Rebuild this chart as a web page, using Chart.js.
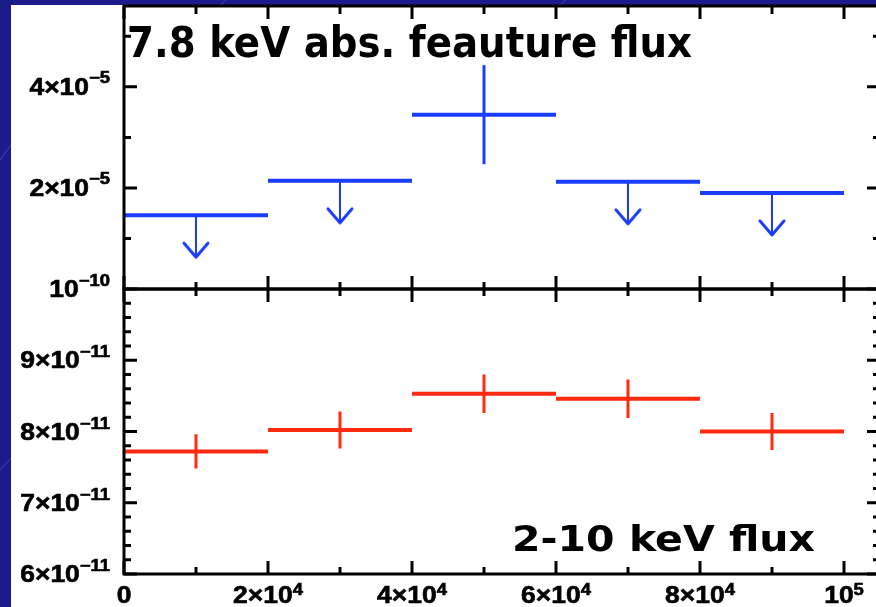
<!DOCTYPE html>
<html>
<head>
<meta charset="utf-8">
<script src="https://cdn.jsdelivr.net/npm/chart.js@4/dist/chart.umd.min.js"></script>
<style>
  html, body { margin: 0; padding: 0; overflow: hidden; background: #1b1b8c; }
  #wrap { position: relative; width: 890px; height: 607px; }
</style>
</head>
<body>
<div id="wrap"><canvas id="fluxChart"></canvas></div>
<script>
// Time bins (s)
const binStart = [0, 2e4, 4e4, 6e4, 8e4]
const binEnd = [2e4, 4e4, 6e4, 8e4, 1e5]

// 7.8 keV absorption feature flux, null error = upper limit
const featureFlux = [1.46e-5, 2.14e-5, 3.45e-5, 2.12e-5, 1.90e-5]
const featureErr = [null, null, 0.98e-5, null, null]

// 2-10 keV continuum flux
const contFlux = [7.72e-11, 8.02e-11, 8.53e-11, 8.46e-11, 8.00e-11]
const contErr = [0.24e-11, 0.26e-11, 0.27e-11, 0.27e-11, 0.26e-11]

// Ticks
const xMajorTicks = [0, 2e4, 4e4, 6e4, 8e4, 1e5]
const xMinorTicks = [1e4, 3e4, 5e4, 7e4, 9e4]
const xTickLabels = [['0', ''], ['2×10', '4'], ['4×10', '4'], ['6×10', '4'], ['8×10', '4'], ['10', '5']]

const topMajorTicks = [2e-5, 4e-5]
const topMinorTicks = [1e-5, 3e-5, 5e-5]
const topTickLabels = [['2×10', '−5'], ['4×10', '−5']]

const botMajorTicks = [6e-11, 7e-11, 8e-11, 9e-11, 1e-10]
const botMinorTicks = [6.2e-11, 6.4e-11, 6.6e-11, 6.8e-11, 7.2e-11, 7.4e-11, 7.6e-11, 7.8e-11,
    8.2e-11, 8.4e-11, 8.6e-11, 8.8e-11, 9.2e-11, 9.4e-11, 9.6e-11, 9.8e-11]
const botTickLabels = [['6×10', '−11'], ['7×10', '−11'], ['8×10', '−11'], ['9×10', '−11'], ['10', '−10']]

const topTitle = '7.8 keV abs. feauture flux'
const bottomTitle = '2-10 keV flux'

// length of upper-limit arrows, in flux units of the top panel
const ARROW_LEN = 0.83e-5

const BLUE = '#1a3cff'
const RED = '#ff2a10'
const LABEL_FONT = '"Liberation Sans", Arial, sans-serif'
const TITLE_FONT = '"DejaVu Sans", sans-serif'

const binMid = i => (binStart[i] + binEnd[i]) / 2

function binSegments(values) {
    const pts = []
    values.forEach((v, i) => {
        pts.push({ x: binStart[i], y: v }, { x: binEnd[i], y: v }, { x: binEnd[i], y: null })
    })
    return pts
}

function errorSegments(values, errors) {
    const pts = []
    values.forEach((v, i) => {
        if (errors[i] == null) return
        pts.push({ x: binMid(i), y: v - errors[i] }, { x: binMid(i), y: v + errors[i] }, { x: binMid(i), y: null })
    })
    return pts
}

function limitArrows(values, errors) {
    const pts = []
    values.forEach((v, i) => {
        if (errors[i] != null) return
        pts.push({ x: binMid(i), y: v }, { x: binMid(i), y: v - ARROW_LEN, tip: true }, { x: binMid(i), y: null })
    })
    return pts
}

function makeChevron(color) {
    const c = document.createElement('canvas')
    c.width = 30
    c.height = 34
    const g = c.getContext('2d')
    g.strokeStyle = color
    g.lineWidth = 3
    g.lineCap = 'round'
    g.lineJoin = 'round'
    g.beginPath()
    g.moveTo(3, 3)
    g.lineTo(15, 17)
    g.lineTo(27, 3)
    g.stroke()
    return c
}

// "a×10^b" style label
function drawPowerLabel(ctx, base, exp, x, y, align, expRise) {
    const sx = 1.15
    ctx.font = `bold 23px ${LABEL_FONT}`
    const wb = ctx.measureText(base).width
    ctx.font = `bold 16px ${LABEL_FONT}`
    const we = exp ? ctx.measureText(exp).width : 0
    const total = (wb + we) * sx
    const left = align === 'right' ? x - total : x - total / 2
    ctx.save()
    ctx.translate(left, y)
    ctx.scale(sx, 1)
    ctx.lineWidth = 0.6
    ctx.font = `bold 23px ${LABEL_FONT}`
    ctx.fillText(base, 0, 0)
    ctx.strokeText(base, 0, 0)
    if (exp) {
        ctx.font = `bold 16px ${LABEL_FONT}`
        ctx.fillText(exp, wb, -expRise)
        ctx.strokeText(exp, wb, -expRise)
    }
    ctx.restore()
}

function drawFittedText(ctx, text, x, baseline, size, width) {
    ctx.font = `bold ${size}px ${TITLE_FONT}`
    const w = ctx.measureText(text).width
    ctx.save()
    ctx.translate(x, baseline)
    ctx.scale(width / w, 1)
    ctx.fillText(text, 0, 0)
    ctx.restore()
}

const backgroundPlugin = {
    id: 'slideBackground',
    beforeDraw(chart) {
        const ctx = chart.ctx
        ctx.save()
        ctx.fillStyle = '#1b1b8c'
        ctx.fillRect(0, 0, chart.width, chart.height)
        ctx.strokeStyle = 'rgba(140,150,230,0.35)'
        ctx.lineWidth = 1
        ctx.beginPath()
        ctx.moveTo(0, 160); ctx.lineTo(11, 145)
        ctx.moveTo(0, 470); ctx.lineTo(11, 458)
        ctx.moveTo(220, 5); ctx.lineTo(226, 0)
        ctx.moveTo(560, 5); ctx.lineTo(566, 0)
        ctx.stroke()
        ctx.fillStyle = '#ffffff'
        ctx.fillRect(11, 5, chart.width - 11, chart.height - 5)
        ctx.restore()
    }
}

const framePlugin = {
    id: 'frameAndLabels',
    afterDatasetsDraw(chart) {
        const ctx = chart.ctx
        const { x, yTop, yBot } = chart.scales
        const left = x.left, right = x.right
        const top = yTop.top, mid = yTop.bottom, bottom = yBot.bottom

        ctx.save()
        ctx.strokeStyle = '#000'
        ctx.fillStyle = '#000'
        ctx.lineWidth = 3
        ctx.lineCap = 'butt'

        ctx.strokeRect(left, top, right - left, mid - top)
        ctx.strokeRect(left, mid, right - left, bottom - mid)

        ctx.beginPath()
        const vTick = (px, y0, len) => { ctx.moveTo(px, y0); ctx.lineTo(px, y0 + len) }
        const hTick = (py, x0, len) => { ctx.moveTo(x0, py); ctx.lineTo(x0 + len, py) }

        xMajorTicks.forEach(v => {
            const px = x.getPixelForValue(v)
            vTick(px, top, 13)
            vTick(px, mid - 13, 26)
            vTick(px, bottom, -13)
        })
        xMinorTicks.forEach(v => {
            const px = x.getPixelForValue(v)
            vTick(px, top, 8)
            vTick(px, mid - 7, 14)
            vTick(px, bottom, -7)
        })
        topMajorTicks.forEach(v => {
            const py = yTop.getPixelForValue(v)
            hTick(py, left, 13)
            hTick(py, right, -13)
        })
        topMinorTicks.forEach(v => {
            const py = yTop.getPixelForValue(v)
            hTick(py, left, 7)
            hTick(py, right, -7)
        })
        botMajorTicks.forEach(v => {
            const py = yBot.getPixelForValue(v)
            hTick(py, left, 13)
            hTick(py, right, -13)
        })
        botMinorTicks.forEach(v => {
            const py = yBot.getPixelForValue(v)
            hTick(py, left, 7)
            hTick(py, right, -7)
        })
        ctx.stroke()

        // tick labels
        ctx.textBaseline = 'alphabetic'
        ctx.textAlign = 'left'
        topMajorTicks.forEach((v, i) => {
            drawPowerLabel(ctx, topTickLabels[i][0], topTickLabels[i][1], 110, yTop.getPixelForValue(v) + 8, 'right', 12)
        })
        botMajorTicks.forEach((v, i) => {
            drawPowerLabel(ctx, botTickLabels[i][0], botTickLabels[i][1], 110, yBot.getPixelForValue(v) + 8, 'right', 11)
        })
        xMajorTicks.forEach((v, i) => {
            drawPowerLabel(ctx, xTickLabels[i][0], xTickLabels[i][1], x.getPixelForValue(v), 603, 'center', 8)
        })

        // panel titles
        drawFittedText(ctx, topTitle, 127, 57, 42, 565)
        drawFittedText(ctx, bottomTitle, 512, 551, 35, 303)
        ctx.restore()
    }
}

const chevronBlue = makeChevron(BLUE)
const tipRadius = c => (c.raw && c.raw.tip ? 6 : 0)

new Chart(document.getElementById('fluxChart'), {
    type: 'scatter',
    data: {
        datasets: [
            {
                label: 'feature bins', data: binSegments(featureFlux), yAxisID: 'yTop',
                showLine: true, borderColor: BLUE, borderWidth: 4, pointRadius: 0
            },
            {
                label: 'feature errors', data: errorSegments(featureFlux, featureErr), yAxisID: 'yTop',
                showLine: true, borderColor: BLUE, borderWidth: 3, pointRadius: 0
            },
            {
                label: 'feature upper limits', data: limitArrows(featureFlux, featureErr), yAxisID: 'yTop',
                showLine: true, borderColor: BLUE, borderWidth: 2,
                pointStyle: chevronBlue, pointRadius: tipRadius
            },
            {
                label: 'continuum bins', data: binSegments(contFlux), yAxisID: 'yBot',
                showLine: true, borderColor: RED, borderWidth: 4, pointRadius: 0
            },
            {
                label: 'continuum errors', data: errorSegments(contFlux, contErr), yAxisID: 'yBot',
                showLine: true, borderColor: RED, borderWidth: 3, pointRadius: 0
            }
        ]
    },
    options: {
        responsive: true,
        maintainAspectRatio: false,
        animation: false,
        events: [],
        layout: { padding: { left: 124, right: 10, top: 6, bottom: 33 } },
        plugins: {
            legend: { display: false },
            tooltip: { enabled: false },
            title: { display: false }
        },
        scales: {
            x: {
                type: 'linear', min: 0, max: 1.05e5,
                ticks: { display: false }, grid: { display: false, drawTicks: false }, border: { display: false },
                afterFit: s => { s.height = 0 }
            },
            yBot: {
                type: 'linear', position: 'left', stack: 'panels', stackWeight: 285,
                min: 6e-11, max: 1e-10,
                ticks: { display: false }, grid: { display: false, drawTicks: false }, border: { display: false },
                afterFit: s => { s.width = 0 }
            },
            yTop: {
                type: 'linear', position: 'left', stack: 'panels', stackWeight: 283,
                min: 0, max: 5.6e-5,
                ticks: { display: false }, grid: { display: false, drawTicks: false }, border: { display: false },
                afterFit: s => { s.width = 0 }
            }
        }
    },
    plugins: [backgroundPlugin, framePlugin]
})
</script>
</body>
</html>
